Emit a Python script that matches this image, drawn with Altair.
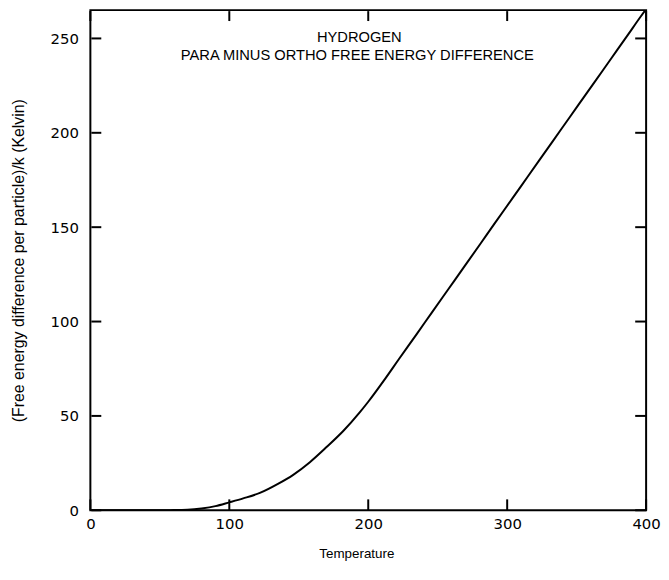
import altair as alt
import pandas as pd

# Data
temperature = [0, 20, 40, 60, 70, 80, 90, 100, 110, 122, 135, 146, 158, 170,
               182, 194, 200, 212, 222, 235, 246, 258, 270, 281, 291, 304,
               315, 327, 339, 351, 363, 375, 387, 396, 400]
free_energy = [0, 0, 0, 0.1, 0.3, 1.0, 2.2, 4.2, 6.3, 9.2, 14.0, 18.8, 25.5,
               33.5, 42, 52, 57.5, 69.5, 80, 93.5, 105, 117.5, 130, 141.5, 152,
               165.5, 177, 189.5, 202, 214.5, 227, 239.5, 252, 261.5, 265.5]
x_ticks = [0, 100, 200, 300, 400]
y_ticks = [0, 50, 100, 150, 200, 250]
title_lines = ["HYDROGEN", "PARA MINUS ORTHO FREE ENERGY DIFFERENCE"]

W, H = 560, 504
TICK = 11

df = pd.DataFrame({"T": temperature, "F": free_energy})
xb = pd.DataFrame({"xb": x_ticks})
xtp = pd.DataFrame({"xtp": x_ticks})
yl = pd.DataFrame({"yl": y_ticks})
yr = pd.DataFrame({"yr": y_ticks})
titles = pd.DataFrame({"text": title_lines, "row": [0, 1]})

xscale = alt.Scale(domain=[0, 400], nice=False, zero=False)
yscale = alt.Scale(domain=[0, 265], nice=False, zero=False)

line = alt.Chart(df).mark_line(color="black", strokeWidth=2, clip=True,
                               interpolate="monotone").encode(
    x=alt.X("T:Q", scale=xscale, title="Temperature",
            axis=alt.Axis(values=x_ticks, grid=False, domain=False, ticks=False,
                          labelFlush=False, labelPadding=6, titlePadding=16,
                          titleX=268)),
    y=alt.Y("F:Q", scale=yscale,
            title="(Free energy difference per particle)/k (Kelvin)",
            axis=alt.Axis(values=y_ticks, grid=False, domain=False, ticks=False,
                          labelPadding=12, titlePadding=24)),
)

bottom_ticks = alt.Chart(xb).mark_rule(color="black", strokeWidth=2).encode(
    x=alt.X("xb:Q", scale=xscale), y=alt.value(H), y2=alt.value(H - TICK))
top_ticks = alt.Chart(xtp).mark_rule(color="black", strokeWidth=2).encode(
    x=alt.X("xtp:Q", scale=xscale), y=alt.value(1), y2=alt.value(TICK))
left_ticks = alt.Chart(yl).mark_rule(color="black", strokeWidth=2).encode(
    y=alt.Y("yl:Q", scale=yscale), x=alt.value(1), x2=alt.value(TICK))
right_ticks = alt.Chart(yr).mark_rule(color="black", strokeWidth=2).encode(
    y=alt.Y("yr:Q", scale=yscale), x=alt.value(W), x2=alt.value(W - TICK))

title_font = "Liberation Sans"
t1 = alt.Chart(titles[titles.row == 0]).mark_text(
    font=title_font, fontSize=14.8, color="black", align="center", baseline="middle"
).encode(text="text:N", x=alt.value(271), y=alt.value(28))
t2 = alt.Chart(titles[titles.row == 1]).mark_text(
    font=title_font, fontSize=14.8, color="black", align="center", baseline="middle"
).encode(text="text:N", x=alt.value(269), y=alt.value(46))

chart = alt.layer(line, bottom_ticks, top_ticks, left_ticks, right_ticks, t1, t2).properties(
    width=W, height=H,
    autosize=alt.AutoSizeParams(type="none"),
    padding={"left": 83, "top": 0, "right": 15, "bottom": 54},
).configure_view(
    stroke="black", strokeWidth=2
).configure_axis(
    labelFont="DejaVu Sans", labelFontSize=15, labelColor="black",
    titleFont="Liberation Sans", titleFontSize=16, titleColor="black",
    titleFontWeight="normal",
).configure_axisX(titleFontSize=13.5)

chart.save("out.html", embed_options={"renderer": "svg", "actions": False})
